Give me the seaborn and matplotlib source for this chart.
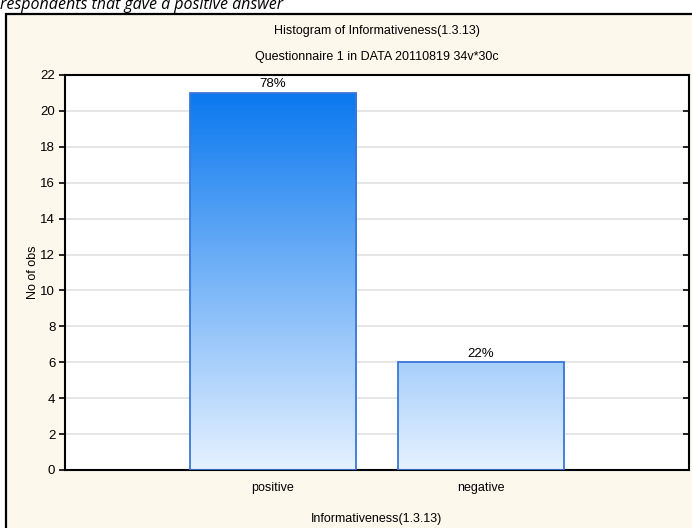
import numpy as np
import pandas as pd
import matplotlib
matplotlib.use("Agg")
import matplotlib.pyplot as plt
from matplotlib.patches import Rectangle
from matplotlib.colors import LinearSegmentedColormap
import seaborn as sns

categories = ["positive", "negative"]
counts = [21, 6]
y_ticks = list(range(0, 23, 2))

title_1 = "Histogram of Informativeness(1.3.13)"
title_2 = "Questionnaire 1 in DATA 20110819 34v*30c"
x_label = "Informativeness(1.3.13)"
y_label = "No of obs"
caption = "respondents that gave a positive answer"

sns.set_theme(style="white")
plt.rcParams["font.family"] = ["Liberation Sans", "DejaVu Sans"]
plt.rcParams["text.color"] = "black"
plt.rcParams["axes.labelcolor"] = "black"
plt.rcParams["xtick.color"] = "black"
plt.rcParams["ytick.color"] = "black"

W, H = 692, 528
fig = plt.figure(figsize=(W / 100, H / 100), dpi=100, facecolor="white")

# cream panel with a black frame, behind the axes
panel = Rectangle((6 / W, -0.02), 1.1, (H - 14) / H + 0.02,
                  transform=fig.transFigure, facecolor="#fdf8ec",
                  edgecolor="black", linewidth=1.6, zorder=-5)
fig.patches.append(panel)

fig.text(0.0, 1 - 9 / H, caption, fontsize=11.5, style="italic",
         family=["Open Sans", "DejaVu Sans"], va="baseline", ha="left",
         color="black")

ax = fig.add_axes([65 / W, (H - 470) / H, 624 / W, 395 / H], zorder=2)
ax.set_facecolor("white")

df = pd.DataFrame({"category": categories, "count": counts})
sns.barplot(data=df, x="category", y="count", ax=ax, width=0.8,
            color="#5aa6f8", edgecolor="#3a78d8", linewidth=1.3, zorder=3)

ax.set_xlim(-1, 2)
ax.set_ylim(0, 22)
ax.set_yticks(y_ticks)
ax.yaxis.grid(True, color="#e2e2e2", linewidth=1.2, zorder=0)
ax.set_axisbelow(True)

# vertical gradient fill, shared across bars in data coordinates
cmap = LinearSegmentedColormap.from_list("blu", ["#e6f2ff", "#0a78f0"])
grad = np.linspace(0, 1, 256).reshape(-1, 1)
top = max(counts)
for bar in ax.patches:
    x0 = bar.get_x()
    w = bar.get_width()
    bar.set_facecolor("none")
    im = ax.imshow(grad, cmap=cmap, origin="lower", aspect="auto",
                   extent=[x0, x0 + w, 0, top], zorder=2.5,
                   interpolation="bilinear")
    im.set_clip_path(bar)
ax.set_xlim(-1, 2)
ax.set_ylim(0, 22)

total = sum(counts)
for i, c in enumerate(counts):
    ax.text(i, c + 0.15, f"{c / total * 100:.0f}%", ha="center",
            va="bottom", fontsize=9.5, color="black", zorder=5)

for s in ax.spines.values():
    s.set_visible(True)
    s.set_color("black")
    s.set_linewidth(1.5)

ax.tick_params(axis="y", which="both", left=True, right=True, direction="out",
               length=4, width=1.2, color="black", labelsize=9.5, pad=3,
               labelcolor="black")
ax.tick_params(axis="x", bottom=True, direction="in", length=4, width=1.2,
               color="black", labelsize=9, pad=9, labelcolor="black")
for t in ax.yaxis.get_major_ticks():
    t.tick2line.set_marker(matplotlib.lines.TICKLEFT)

ax.set_xlabel(x_label, fontsize=9, labelpad=13, color="black")
ax.set_ylabel(y_label, fontsize=9, labelpad=1, color="black")

fig.text(377 / W, 1 - 31 / H, title_1, ha="center", va="center", fontsize=9,
         color="black")
fig.text(377 / W, 1 - 57 / H, title_2, ha="center", va="center", fontsize=9,
         color="black")

fig.savefig("out.png", dpi=100, facecolor="white")
